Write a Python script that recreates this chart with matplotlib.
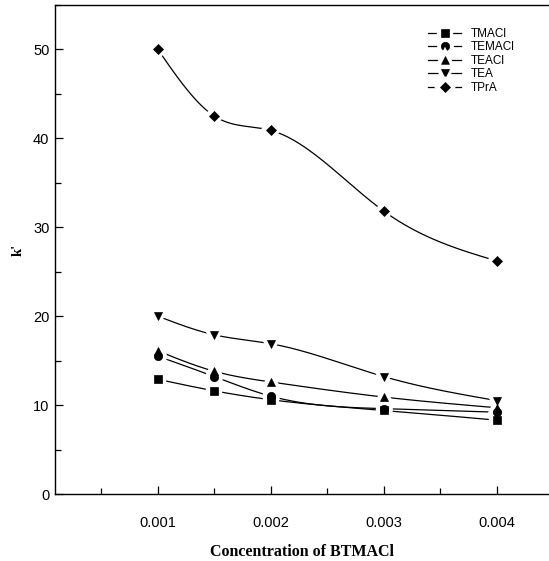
import numpy as np
import matplotlib
matplotlib.use("Agg")
import matplotlib.pyplot as plt
from matplotlib.legend_handler import HandlerTuple
from matplotlib.ticker import MultipleLocator

conc = [0.001, 0.0015, 0.002, 0.003, 0.004]
series_names = ["TMACl", "TEMACl", "TEACl", "TEA", "TPrA"]
tmacl = [12.9, 11.6, 10.6, 9.4, 8.3]
temacl = [15.5, 13.2, 11.0, 9.6, 9.2]
teacl = [16.1, 13.8, 12.6, 10.9, 9.7]
tea = [20.0, 17.9, 16.9, 13.2, 10.5]
tpra = [50.0, 42.5, 40.9, 31.8, 26.2]
markers = ["s", "o", "^", "v", "D"]
msizes = [5.5, 6, 6, 6, 5]


def natural_spline(x, y, n=200):
    x = np.asarray(x, float); y = np.asarray(y, float)
    k = len(x)
    h = np.diff(x)
    A = np.zeros((k, k)); b = np.zeros(k)
    A[0, 0] = 1; A[-1, -1] = 1
    for i in range(1, k - 1):
        A[i, i - 1] = h[i - 1]
        A[i, i] = 2 * (h[i - 1] + h[i])
        A[i, i + 1] = h[i]
        b[i] = 3 * ((y[i + 1] - y[i]) / h[i] - (y[i] - y[i - 1]) / h[i - 1])
    c = np.linalg.solve(A, b)
    xs = np.linspace(x[0], x[-1], n)
    ys = np.empty_like(xs)
    for j, xv in enumerate(xs):
        i = min(np.searchsorted(x, xv, side="right") - 1, k - 2)
        dx = xv - x[i]
        bi = (y[i + 1] - y[i]) / h[i] - h[i] * (c[i + 1] + 2 * c[i]) / 3
        di = (c[i + 1] - c[i]) / (3 * h[i])
        ys[j] = y[i] + bi * dx + c[i] * dx ** 2 + di * dx ** 3
    return xs, ys


plt.rcParams["font.family"] = ["Liberation Sans", "DejaVu Sans"]
fig = plt.figure(figsize=(5.49, 5.61), dpi=100)
ax = fig.add_axes([55 / 549, 1 - 494 / 561, 1 - 55 / 549, (494 - 5) / 561])

handles = []
for vals, mk, ms, name in zip([tmacl, temacl, teacl, tea, tpra], markers, msizes, series_names):
    xs, ys = natural_spline(conc, vals)
    ln, = ax.plot(xs, ys, color="black", lw=0.9, zorder=2)
    wh, = ax.plot(conc, vals, linestyle="none", marker=mk, ms=ms, mfc="white",
                  mec="white", mew=6, zorder=3)
    bk, = ax.plot(conc, vals, linestyle="none", marker=mk, ms=ms, mfc="black",
                  mec="black", mew=0.5, zorder=4)
    handles.append((ln, wh, bk))

ax.set_xlim(0.00009, 0.00446)
ax.set_ylim(0, 55)
ax.xaxis.set_minor_locator(MultipleLocator(0.0005))
ax.yaxis.set_major_locator(MultipleLocator(10))
ax.yaxis.set_minor_locator(MultipleLocator(5))
ax.set_xticks([0.001, 0.002, 0.003, 0.004])
ax.set_xticklabels(["0.001", "0.002", "0.003", "0.004"])
ax.tick_params(which="both", direction="in", width=0.9)
ax.tick_params(which="major", length=6)
ax.tick_params(which="minor", length=4)
ax.tick_params(axis="x", which="major", pad=16, labelsize=10.5)
ax.tick_params(axis="y", which="major", pad=4, labelsize=10.5)
ax.spines["right"].set_visible(False)
for s in ["left", "bottom", "top"]:
    ax.spines[s].set_linewidth(1.0)

ax.set_xlabel("Concentration of BTMACl", family="Liberation Serif", fontweight="bold",
              fontsize=11.5, labelpad=10)
ax.set_ylabel("k'", family="Liberation Serif", fontweight="bold", fontsize=10.5, labelpad=6)

leg = ax.legend(handles, series_names, loc="upper left",
                bbox_to_anchor=(428 / 549, 1 - 28 / 561), bbox_transform=fig.transFigure,
                frameon=False, fontsize=8.5, handlelength=2.8, handletextpad=0.8,
                labelspacing=0.12, borderaxespad=0, borderpad=0,
                handler_map={tuple: HandlerTuple(ndivide=1)})

fig.savefig("out.png", dpi=100)
